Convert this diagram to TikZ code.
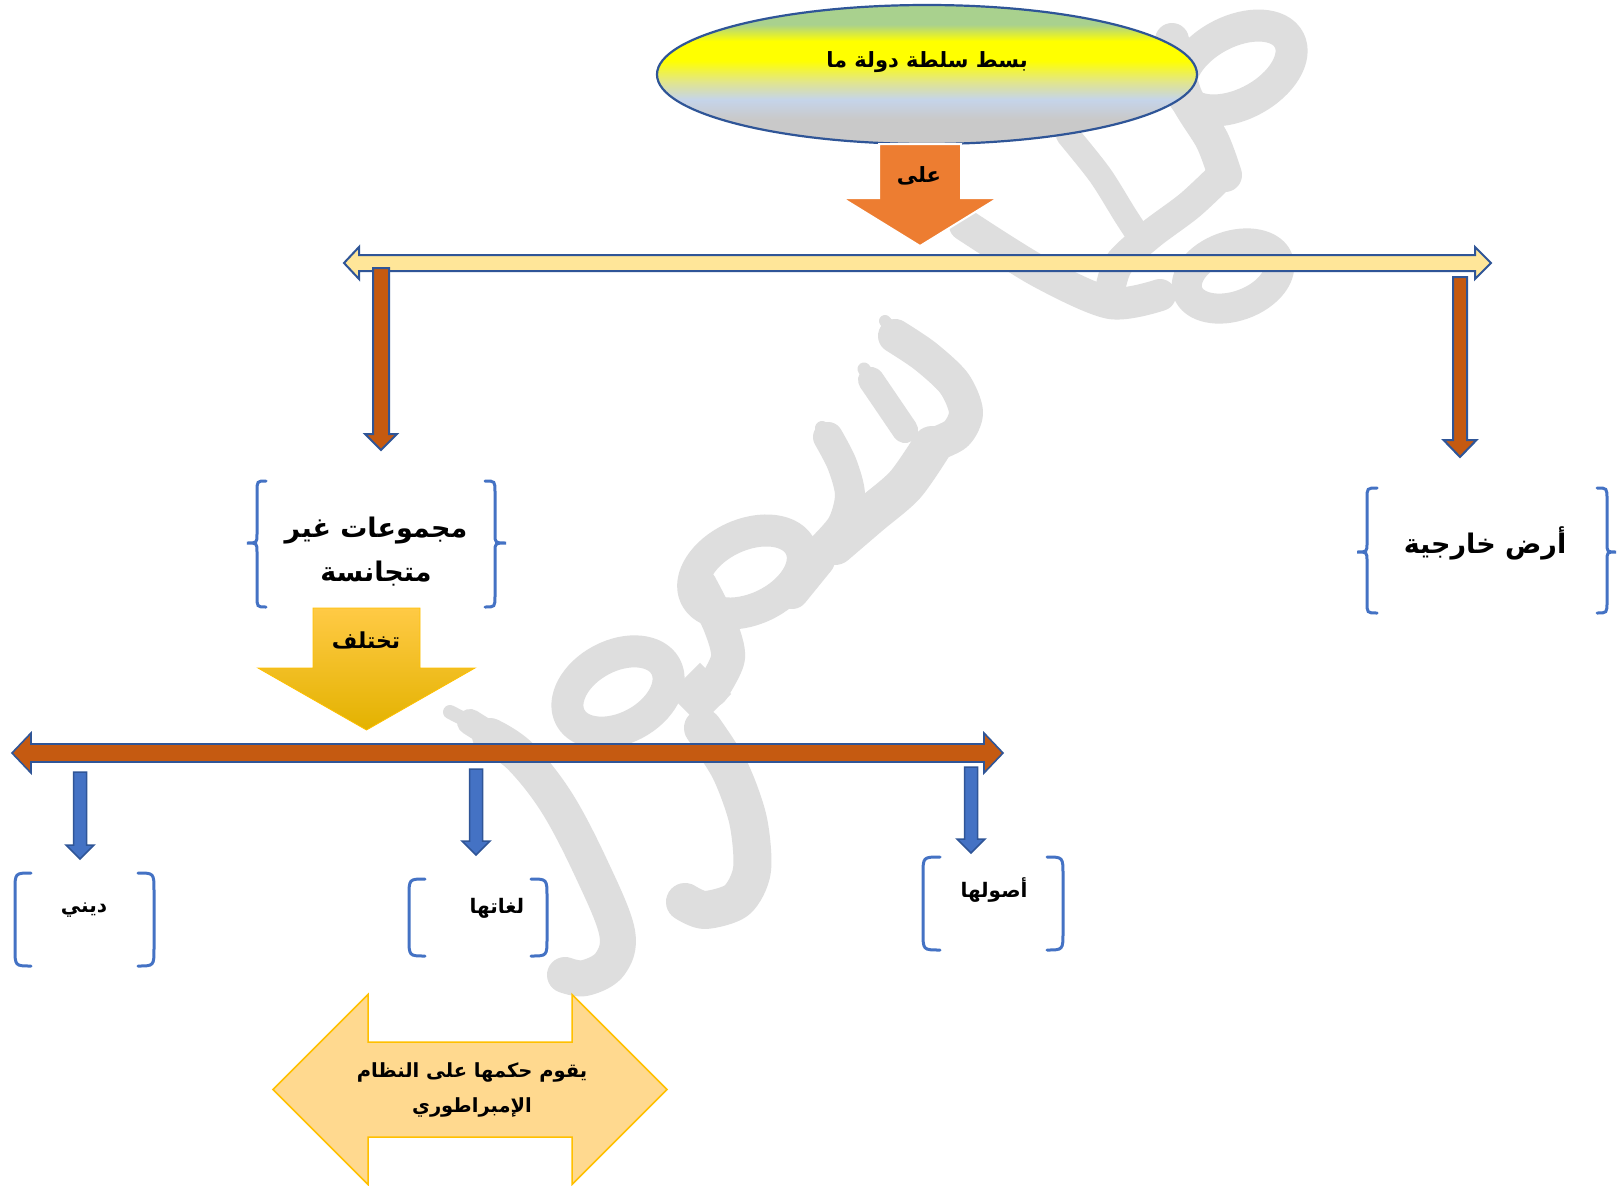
\documentclass[tikz,border=0pt]{standalone}
\usepackage{fontspec}
\newfontfamily\arabicfont[Script=Arabic]{DejaVu Sans}
\TeXXeTstate=1
\definecolor{edgeblue}{HTML}{2F5597}
\definecolor{braceblue}{HTML}{4472C4}
\definecolor{arrblue}{HTML}{4472C4}
\definecolor{brown}{HTML}{C55A11}
\definecolor{orng}{HTML}{ED7D31}
\definecolor{lyel}{HTML}{FFE699}
\definecolor{bigfill}{HTML}{FFD98F}
\definecolor{bigedge}{HTML}{FFC000}
\definecolor{goldA}{HTML}{FFCA45}
\definecolor{goldB}{HTML}{FFC000}
\definecolor{goldC}{HTML}{E3B200}
\definecolor{wmgray}{HTML}{DEDEDE}
\definecolor{wgreen}{HTML}{A9D18E}
\definecolor{wyel}{HTML}{FFFF00}
\definecolor{wmid}{HTML}{E2E68A}
\definecolor{wblue}{HTML}{C5D4EA}
\definecolor{wgrey}{HTML}{C9C9C9}
\pgfdeclareverticalshading{ellshade}{100bp}{color(0bp)=(wgrey); color(34bp)=(wgrey); color(41bp)=(wblue); color(47.5bp)=(wmid); color(55bp)=(wyel); color(62bp)=(wyel); color(68bp)=(wgreen); color(100bp)=(wgreen)}
% #1 style, #2 xc, #3 ytop, #4 ybase, #5 ytip, #6 shaft half, #7 head half
\newcommand{\myDnArrow}[7]{\path[#1] (#2-#6,#3) -- (#2+#6,#3) -- (#2+#6,#4) -- (#2+#7,#4) -- (#2,#5) -- (#2-#7,#4) -- (#2-#6,#4) -- cycle;}
% #1 style, #2 left tip, #3 left base, #4 right base, #5 right tip, #6 yc, #7 shaft half, #8 head half
\newcommand{\myLRArrow}[8]{\path[#1] (#2,#6) -- (#3,#6-#8) -- (#3,#6-#7) -- (#4,#6-#7) -- (#4,#6-#8) -- (#5,#6) -- (#4,#6+#8) -- (#4,#6+#7) -- (#3,#6+#7) -- (#3,#6+#8) -- cycle;}
% brace: #1 xarm, #2 xmid, #3 xtip, #4 ytop, #5 ytip, #6 ybot
\newcommand{\myBrace}[6]{\draw[bracebl] (#1,#4) .. controls (#2,#4) and (#2,#4) .. (#2,#4+11) -- (#2,#5-9) .. controls (#2,#5) and (#2,#5) .. (#3,#5) .. controls (#2,#5) and (#2,#5) .. (#2,#5+9) -- (#2,#6-11) .. controls (#2,#6) and (#2,#6) .. (#1,#6);}
% rounded bracket: #1 xend, #2 xbulge, #3 ytop, #4 ybot
\newcommand{\myParen}[4]{\draw[bracebl] (#1,#3) .. controls (#2,#3) and (#2,#3) .. (#2,#3+18) -- (#2,#4-18) .. controls (#2,#4) and (#2,#4) .. (#1,#4);}
\tikzset{
  wm/.style={draw=wmgray, line width=34pt, line cap=round, line join=round},
  outl/.style={draw=edgeblue, line width=2pt, line join=miter},
  bracebl/.style={draw=braceblue, line width=3pt, line cap=round},
  txt/.style 2 args={font={\arabicfont\bfseries\fontsize{#1}{#2}\selectfont}, text=black, inner sep=0pt, align=center},
}
\begin{document}
\begin{tikzpicture}[x=1pt,y=-1pt]
\useasboundingbox (0,0) rectangle (1618,1186);
\fill[white] (0,0) rectangle (1618,1186);
% ---------- watermark ----------
\begin{scope}
\clip (0,0) rectangle (1618,1186);
% tail
\draw[wm, line width=14] (450,712) -- (485,730);
\draw[wm, line width=26] (470,722) -- (505,744);
\draw[wm, line width=36] plot[smooth, tension=0.6] coordinates {(490,736) (520,756) (557,803) (592,870) (617,932) (610,964) (585,978) (565,975)};
% lower loop + junction + descender
\draw[wm, line width=32, rotate around={28:(618,692)}] (618,692) ellipse [x radius=54, y radius=36];
\fill[wmgray, rotate around={45:(700,694)}] (678,672) rectangle (722,716);
\draw[wm, line width=38] plot[smooth] coordinates {(703,728) (730,770) (748,820) (752,870) (737,900) (705,910) (685,902)};
% upper loop
\draw[wm, line width=32, rotate around={25:(748,572)}] (748,572) ellipse [x radius=58, y radius=37];
\draw[wm, line width=34] plot[smooth] coordinates {(700,585) (720,625) (728,658) (712,690)};
\draw[wm, line width=34] (792,592) -- (818,560);
% seen-like teeth
\draw[wm, line width=12] (885,321) -- (897,335);
\draw[wm, line width=34] plot[smooth] coordinates {(895,336) (925,356) (954,383) (966,412) (956,434) (930,446)};
\draw[wm, line width=40] plot[smooth] coordinates {(932,446) (905,485) (870,515) (835,545)};
\draw[wm, line width=13] (864,369) -- (873,382);
\draw[wm, line width=26] plot[smooth] coordinates {(871,380) (886,402) (905,430)};
\draw[wm, line width=14] (822,428) -- (830,440);
\draw[wm, line width=30] plot[smooth] coordinates {(828,437) (842,464) (850,495) (842,525) (820,550)};
% top right
\draw[wm, line width=32] plot[smooth] coordinates {(965,225) (1040,272) (1110,303) (1160,295)};
\draw[wm, line width=24] plot[smooth] coordinates {(1068,135) (1100,175) (1125,215) (1140,238)};
\draw[wm, line width=32, rotate around={28:(1236,68)}] (1236,68) ellipse [x radius=60, y radius=36];
\draw[wm, line width=34] plot[smooth] coordinates {(1172,40) (1185,95) (1212,140) (1225,175)};
\draw[wm, line width=30] plot[smooth] coordinates {(1225,172) (1190,205) (1150,235) (1118,265) (1108,300)};
\draw[wm, line width=30, rotate around={20:(1233,276)}] (1233,276) ellipse [x radius=48, y radius=30];
\end{scope}
% ---------- top ellipse ----------
\path[shading=ellshade] (927,74.5) ellipse [x radius=270, y radius=69.5];
\draw[edgeblue, line width=2.2pt] (927,74.5) ellipse [x radius=270, y radius=69.5];
\node[txt={21}{26}] (top) at (927,62) {\beginR بسط سلطة دولة ما\endR};
% orange arrow
\myDnArrow{fill=orng, draw=white, line width=2pt}{920}{144}{198}{246}{41}{78}
\node[txt={21}{26}] (ala) at (919,176) {\beginR على\endR};
% yellow double arrow
\myLRArrow{fill=lyel, outl}{344}{359}{1475}{1491}{263}{8}{16}
% brown down arrows
\myDnArrow{fill=brown, outl}{381}{268}{434}{450}{8}{16}
\myDnArrow{fill=brown, outl}{1460}{277}{440}{457}{7}{16.5}
% left brace box
\myBrace{266}{257}{247}{481}{543}{607}
\myBrace{485}{495}{506}{481}{543}{607}
\node[txt={27}{44}] (groups) at (376,552) {\beginR مجموعات غير\endR\\\beginR متجانسة\endR};
% right brace box
\myBrace{1377}{1367}{1357}{488}{552}{613}
\myBrace{1597}{1607}{1616}{488}{552}{613}
\node[txt={27}{34}] (land) at (1485,543) {\beginR أرض خارجية\endR};
% gold arrow
\myDnArrow{top color=goldA, middle color=goldB, bottom color=goldC, draw=goldB, line width=0.8pt}{366.5}{608}{668}{730}{53.5}{108.5}
\node[txt={22}{26}] (differ) at (366,640) {\beginR تختلف\endR};
% brown double arrow
\myLRArrow{fill=brown, draw=edgeblue, line width=1.6pt}{12}{31}{984}{1003}{753}{9}{20}
% blue down arrows
\myDnArrow{fill=arrblue, draw=edgeblue, line width=1.5pt}{80}{772}{845}{859}{6.5}{14}
\myDnArrow{fill=arrblue, draw=edgeblue, line width=1.5pt}{476}{769}{841}{855}{6.5}{14}
\myDnArrow{fill=arrblue, draw=edgeblue, line width=1.5pt}{971}{767}{839}{853}{6.5}{14}
% bracket boxes
\myParen{31}{15}{873}{966}
\myParen{138}{154}{873}{966}
\node[txt={20}{24}] (din) at (84,910) {\beginR ديني\endR};
\myParen{425}{409}{879}{956}
\myParen{531}{547}{879}{956}
\node[txt={20}{24}] (lang) at (497,908) {\beginR لغاتها\endR};
\myParen{940}{923}{857}{950}
\myParen{1047}{1063}{857}{950}
\node[txt={20}{24}] (orig) at (994,890) {\beginR أصولها\endR};
% big double arrow
\myLRArrow{fill=bigfill, draw=bigedge, line width=1.5pt}{273}{368}{572}{667}{1089.5}{47.5}{95}
\node[txt={19.5}{35}] (rule) at (472,1090) {\beginR يقوم حكمها على النظام\endR\\\beginR الإمبراطوري\endR};
\end{tikzpicture}
\end{document}
